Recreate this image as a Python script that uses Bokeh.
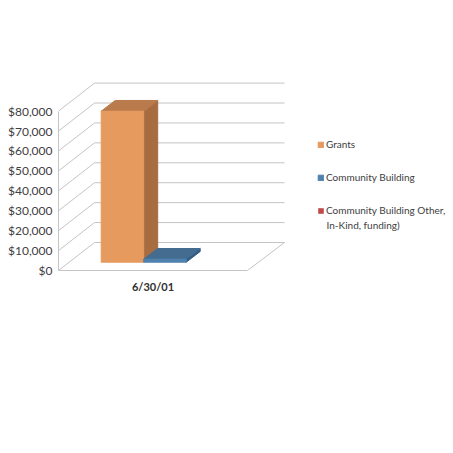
from bokeh.plotting import figure
from bokeh.models import Range1d, FixedTicker, NumeralTickFormatter, Legend, LegendItem, Label
from bokeh.embed import file_html
from bokeh.resources import INLINE

# ---- data ----
categories = ["6/30/01"]
series_names = ["Grants", "Community Building", "Community Building Other,"]
series_name_line2 = "In-Kind, funding)"
grants = [75800]
community = [1500]
other = [0]
y_ticks = [0, 10000, 20000, 30000, 40000, 50000, 60000, 70000, 80000]

front_colors = ["#E69A5E", "#4F81AE", "#BE4B48"]
side_colors = ["#A76C40", "#2F5C85", "#8C3836"]
top_colors = ["#B97A4C", "#436C90", "#A04442"]

# ---- layout of the pseudo-3D box, in x units and px-per-value ----
FONT = "Lato"
LEFT, RIGHT = 58, 247
WALL_DX, WALL_DY = 36, 28
PX = 80000 / 159.4        # value units per pixel
BAR_X0, BAR_W = 100.7, 42.5
BAR_LIFT = 8.3            # front of bars above floor edge, px
BAR_DX, BAR_DY = 14, 10.7
GRID = "#C4C4C4"

p = figure(width=453, height=445, output_backend="svg", toolbar_location=None,
           x_range=Range1d(LEFT, 453), y_range=Range1d(0, 270 * PX),
           min_border_left=58, min_border_right=0, min_border_top=0, min_border_bottom=175,
           background_fill_color="white", border_fill_color="white", outline_line_color=None)
p.xgrid.visible = False
p.ygrid.visible = False

# walls and floor
back_x = LEFT + WALL_DX
lift = WALL_DY * PX
for v in y_ticks:
    p.line([LEFT, back_x, RIGHT + WALL_DX + 1], [v, v + lift, v + lift], line_color=GRID, line_width=1)
p.line([RIGHT, RIGHT + WALL_DX + 1], [0, lift], line_color=GRID, line_width=1)

# bars
legend_items = []
for i, vals in enumerate([grants, community, other]):
    v = vals[0]
    x0 = BAR_X0 + i * BAR_W
    x1 = x0 + BAR_W
    y0 = BAR_LIFT * PX
    y1 = y0 + v
    d = BAR_DY * PX
    if v > 0:
        p.patch([x1, x1 + BAR_DX, x1 + BAR_DX, x1], [y0, y0 + d, y1 + d, y1],
                fill_color=side_colors[i], line_color=side_colors[i])
        p.patch([x0, x1, x1 + BAR_DX, x0 + BAR_DX], [y1, y1, y1 + d, y1 + d],
                fill_color=top_colors[i], line_color=top_colors[i])
    r = p.quad(left=[x0], right=[x1], bottom=[y0], top=[y1],
               fill_color=front_colors[i], line_color=front_colors[i] if v > 0 else None)
    legend_items.append(LegendItem(label=series_names[i], renderers=[r]))

# axes
ya = p.yaxis[0]
ya.ticker = FixedTicker(ticks=y_ticks)
ya.formatter = NumeralTickFormatter(format="$0,0")
ya.bounds = (0, 80000)
ya.axis_line_color = GRID
ya.major_tick_line_color = None
ya.minor_tick_line_color = None
ya.major_tick_out = 0
ya.major_tick_in = 0
ya.minor_tick_out = 0
ya.minor_tick_in = 0
ya.major_label_standoff = 6
ya.major_label_text_font = FONT
ya.major_label_text_font_size = "12px"
ya.major_label_text_color = "#404040"

xa = p.xaxis[0]
cat_x = (LEFT + RIGHT) / 2
xa.ticker = FixedTicker(ticks=[cat_x])
xa.major_label_overrides = {cat_x: categories[0]}
xa.bounds = (LEFT, RIGHT)
xa.axis_line_color = GRID
xa.major_tick_line_color = None
xa.minor_tick_line_color = None
xa.major_tick_out = 0
xa.major_tick_in = 0
xa.minor_tick_out = 0
xa.minor_tick_in = 0
xa.major_label_standoff = 9
xa.major_label_text_font = FONT
xa.major_label_text_font_style = "bold"
xa.major_label_text_font_size = "11px"
xa.major_label_text_color = "#303030"

legend = Legend(items=legend_items, location=(259, 54),
                border_line_color=None, background_fill_alpha=0,
                glyph_width=7, glyph_height=7, spacing=21, margin=0, padding=0,
                label_text_font=FONT, label_text_font_size="10px",
                label_text_color="#404040", label_standoff=2)
p.add_layout(legend, "center")
p.add_layout(Label(x=326, y=(270 - 224.5) * PX, text=series_name_line2, text_font=FONT,
                   text_font_size="10px", text_color="#404040", text_baseline="middle"))

open("out.html", "w").write(file_html(p, INLINE))
